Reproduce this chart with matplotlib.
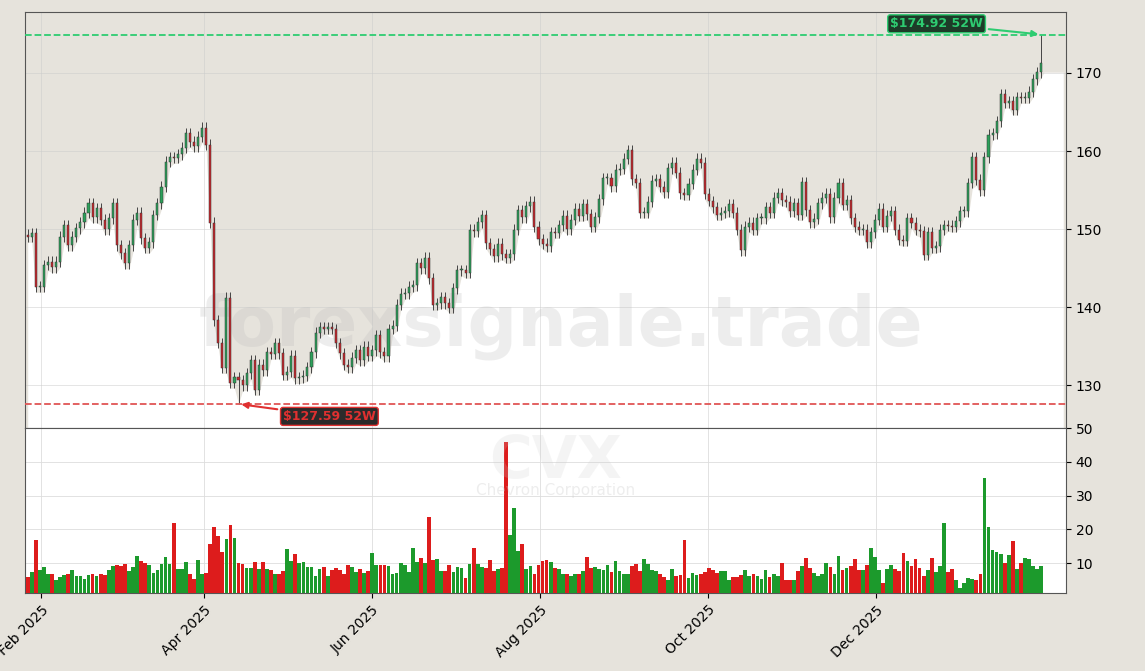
import matplotlib
matplotlib.use("Agg")
import matplotlib.pyplot as plt
import matplotlib.dates as mdates
import numpy as np
import pandas as pd

# daily closes, Jan 27 2025 onward
CLOSES = [
    149.0, 149.5, 142.6, 142.6, 145.4, 145.8, 145.1, 145.8, 149.0, 150.5, 147.9, 149.0, 150.1, 150.9,
    152.1, 153.3, 151.5, 152.7, 151.2, 150.0, 151.4, 153.3, 147.9, 146.9, 145.6, 147.9, 151.2, 152.1,
    148.8, 147.6, 148.3, 151.8, 153.3, 155.4, 158.6, 159.2, 159.1, 159.6, 160.4, 162.3, 161.2, 160.6,
    161.8, 163.0, 160.8, 150.8, 138.3, 135.4, 132.2, 141.2, 130.3, 131.0, 130.6, 130.0, 131.5, 133.2,
    129.4, 132.6, 131.9, 134.2, 134.0, 135.4, 134.1, 131.3,
    131.7, 133.8, 130.9, 131.0, 131.2, 132.3, 134.2, 136.7, 137.4, 137.2, 137.4, 137.2, 135.4, 134.1,
    132.6, 132.3, 133.5, 134.5, 133.2, 134.9, 133.8, 134.5, 136.4, 134.2, 133.7, 137.2, 137.6, 140.3,
    141.7, 141.8, 142.6, 142.8, 145.6, 145.0, 146.3, 143.7, 140.3, 140.5, 141.3, 140.5, 139.9, 142.4,
    144.7, 144.7, 144.4, 149.9, 149.7, 150.9, 151.8, 148.2, 147.4, 146.5, 148.1, 146.8, 146.3, 146.8,
    149.9, 152.4, 151.5, 152.9, 153.5, 150.3, 148.7, 148.1, 147.8, 149.6,
    149.5, 150.5, 151.7, 150.0, 151.2, 152.6, 151.7, 153.2, 151.9, 150.3, 151.5, 153.8, 156.5, 156.5,
    155.5, 157.6, 157.7, 159.0, 160.1, 156.4, 155.9, 152.1, 152.1, 153.5, 156.2, 156.4, 155.4, 154.7,
    157.8, 158.5, 157.2, 154.6, 154.4, 155.8, 157.6, 159.0, 158.5, 154.5, 153.6, 152.8, 151.8, 152.1,
    152.3, 153.2, 152.1, 149.9, 147.3, 150.3, 150.8, 149.9, 151.4, 151.4, 152.8, 152.1, 154.0, 154.6,
    153.7, 153.5, 152.3, 153.3, 151.8, 156.0, 152.4, 150.9,
    151.3, 153.3, 154.0, 154.5, 151.5, 154.0, 155.9, 153.1, 153.7, 151.4, 150.3, 149.9, 149.9, 148.3,
    149.6, 151.2, 152.6, 150.3, 151.7, 152.3, 149.9, 148.6, 148.5, 151.4, 150.8, 149.9, 149.7, 146.7,
    149.6, 147.6, 147.8, 149.9, 150.5, 150.4, 150.3, 151.0, 152.3, 152.3, 155.9, 159.2, 156.3, 155.0,
    159.2, 162.1, 162.3, 163.8, 167.3, 166.2, 166.4, 165.3, 166.9, 166.8, 166.8, 167.6, 169.2, 170.1,
    171.3,
]

# volume in millions
VOLUMES = [
    5.9, 7.4, 16.8, 7.9, 8.9, 6.7, 6.7, 5.0, 5.9, 6.4, 6.9, 8.1, 6.1, 6.1, 5.2, 6.4, 6.9, 6.1, 6.9, 6.4,
    7.9, 9.1, 9.4, 9.1, 9.7, 7.6, 8.9, 12.1, 10.6, 10.1, 9.4, 7.1, 7.9, 9.7, 11.7, 9.7, 21.8, 8.2, 8.2,
    10.2, 6.9, 5.2, 10.9, 6.7, 7.2, 15.6, 20.6, 18.0, 13.3, 17.0, 21.3, 17.3, 9.9, 9.7, 8.7, 8.7, 10.2,
    8.2, 10.2, 8.2, 7.9, 6.9, 6.9, 7.6, 14.2, 10.6, 12.7, 10.1, 10.3, 8.9, 8.9, 6.2, 8.2, 8.9, 6.2, 7.9,
    8.6, 7.9, 6.7, 9.4, 8.9, 7.4, 8.4, 7.1, 7.7, 12.9, 9.4, 9.4,
    9.4, 9.1, 6.7, 7.2, 9.9, 9.4, 7.4, 14.4, 10.4, 11.4, 9.9, 23.6, 10.9, 11.1, 7.6, 7.6, 9.4, 7.4, 8.9,
    8.6, 5.6, 9.7, 14.4, 9.7, 8.9, 8.7, 10.9, 7.7, 8.2, 8.6, 45.8, 18.3, 26.2, 13.7, 15.8, 8.2, 9.1, 6.7,
    9.4, 10.7, 10.9, 10.2, 8.7, 8.2, 6.7, 6.7, 6.2, 6.9, 6.7, 7.6, 11.7, 8.6, 8.9, 8.2, 7.9, 9.4, 7.4,
    10.6, 7.6, 6.7, 6.7, 9.1, 9.7, 7.6, 11.2, 9.7, 7.9, 7.6, 6.7, 5.9, 5.1, 8.2, 6.2, 6.4, 16.8, 5.6,
    7.2, 6.4, 6.7, 7.4, 8.6, 7.9, 7.2, 7.7,
    7.7, 5.0, 5.9, 5.9, 6.4, 8.1, 6.1, 6.7, 6.1, 5.4, 7.9, 5.9, 6.7, 6.2, 9.9, 5.1, 5.1, 5.1, 7.6, 9.1,
    11.4, 8.7, 7.2, 6.1, 6.7, 9.9, 8.9, 6.7, 12.1, 8.1, 8.7, 9.1, 11.1, 7.9, 7.9, 9.4, 14.4, 11.7, 7.9,
    4.0, 8.4, 9.4, 8.2, 7.6, 12.9, 10.6, 9.1, 11.1, 8.7, 6.2, 7.9, 11.4, 7.4, 9.1, 21.8, 7.4, 8.4, 5.0,
    2.5, 4.0, 5.7, 5.4, 5.1, 6.9, 35.1, 20.6, 13.9, 13.2, 12.7, 9.9, 12.4, 16.5, 8.4, 9.9, 11.4, 11.2,
    9.1, 8.4, 9.1, 9.9, 9.4, 12.9,
]

FIRST_DAY = "2025-01-27"
LAST_DAY = "2026-01-30"
HIGH_52W = 174.92
LOW_52W = 127.59
LOW_DATE = "2025-04-14"

BG = "#e6e3dc"
UP = "#2ca05a"
DOWN = "#c8282d"
VOL_UP = "#1c9a2c"
VOL_DOWN = "#dd1c1c"

n = min(len(CLOSES), len(VOLUMES))
closes = np.array(CLOSES[:n])
vols = np.array(VOLUMES[:n])
# trading sessions drawn evenly spaced between the first and last session
dates = pd.date_range(FIRST_DAY, LAST_DAY, periods=n)
x = mdates.date2num(dates)
opens = np.concatenate([[closes[0] + 0.3], closes[:-1]])
highs = np.maximum(opens, closes) + 0.7
lows = np.minimum(opens, closes) - 0.7
highs[-1] = HIGH_52W
li = int(np.argmin(np.abs(x - mdates.datestr2num(LOW_DATE))))
lows[li] = LOW_52W

fig = plt.figure(figsize=(11.45, 6.71), dpi=100, facecolor=BG)
ax = fig.add_axes([0.0218, 0.362, 0.9092, 0.620])
axv = fig.add_axes([0.0218, 0.116, 0.9092, 0.246], sharex=ax)

ylo, yhi = 124.5, 177.8
ax.set_facecolor(BG)
last_body = min(opens[-1], closes[-1])
ax.fill_between(np.append(x, [x[-1] + 1, x[-1] + 8]), np.append(lows, [last_body, last_body]), ylo,
                color="white", zorder=1, lw=0)
ax.set_ylim(ylo, yhi)
xlo, xhi = mdates.datestr2num("2025-01-26"), mdates.datestr2num("2026-02-08")
ax.set_xlim(xlo, xhi)

up = closes >= opens
w = 0.75
for xi, o, h, l, c, u in zip(x, opens, highs, lows, closes, up):
    col = UP if u else DOWN
    ax.vlines(xi, l, h, color="#444444", lw=0.7, zorder=3)
    ax.bar(xi, max(abs(c - o), 0.15), bottom=min(o, c), width=w, color=col,
           edgecolor="#333333", linewidth=0.35, zorder=4)

ax.axhline(HIGH_52W, color="#2ecc71", ls="--", lw=1.3, zorder=5)
ax.axhline(LOW_52W, color="#e05555", ls="--", lw=1.3, zorder=5)
ax.annotate(f"${HIGH_52W:.2f} 52W", xy=(x[-1], HIGH_52W), xytext=(x[-1] - 38, 176.3),
            color="#2ecc71", fontsize=9, fontweight="bold", ha="center", va="center",
            bbox=dict(boxstyle="round,pad=0.2", fc="#1d3b28", ec="#2ecc71", lw=1),
            arrowprops=dict(arrowstyle="-|>", color="#2ecc71", lw=1.5), zorder=6)
ax.annotate(f"${LOW_52W:.2f} 52W", xy=(x[li], LOW_52W), xytext=(x[li] + 33, 126.0),
            color="#e03030", fontsize=9, fontweight="bold", ha="center", va="center",
            bbox=dict(boxstyle="round,pad=0.2", fc="#2b2b2b", ec="#e03030", lw=1),
            arrowprops=dict(arrowstyle="-|>", color="#e03030", lw=1.5), zorder=6)

ax.text(0.515, 0.245, "forexsignale.trade", transform=ax.transAxes, fontsize=50,
        fontweight="bold", color="#bbbbbb", alpha=0.25, ha="center", va="center", zorder=2)

ax.yaxis.tick_right()
ax.set_yticks([130, 140, 150, 160, 170])
ax.grid(True, color="#cccccc", lw=0.6, alpha=0.6)
ax.tick_params(axis="x", labelbottom=False, length=0)
ax.tick_params(axis="y", labelsize=10)

axv.set_facecolor("white")
axv.bar(x, vols, width=1.35, color=np.where(up, VOL_UP, VOL_DOWN), zorder=3)
axv.set_ylim(1.1, 50)
axv.yaxis.tick_right()
axv.set_yticks([10, 20, 30, 40, 50])
axv.grid(True, color="#dddddd", lw=0.6)
axv.tick_params(axis="y", labelsize=10)
axv.text(0.51, 0.8, "CVX", transform=axv.transAxes, fontsize=42, fontweight="bold",
         color="#cccccc", alpha=0.2, ha="center", va="center")
axv.text(0.51, 0.62, "Chevron Corporation", transform=axv.transAxes, fontsize=11,
         color="#cccccc", alpha=0.35, ha="center", va="center")
tick_dates = pd.date_range("2025-02-01", "2025-12-01", freq="2MS")
axv.set_xticks(mdates.date2num(tick_dates))
axv.xaxis.set_major_formatter(mdates.DateFormatter("%b %Y"))
plt.setp(axv.get_xticklabels(), rotation=45, ha="right", rotation_mode="anchor", fontsize=10)

for a in (ax, axv):
    for s in a.spines.values():
        s.set_color("#555555")

fig.savefig("out.png", dpi=100, facecolor=BG)
